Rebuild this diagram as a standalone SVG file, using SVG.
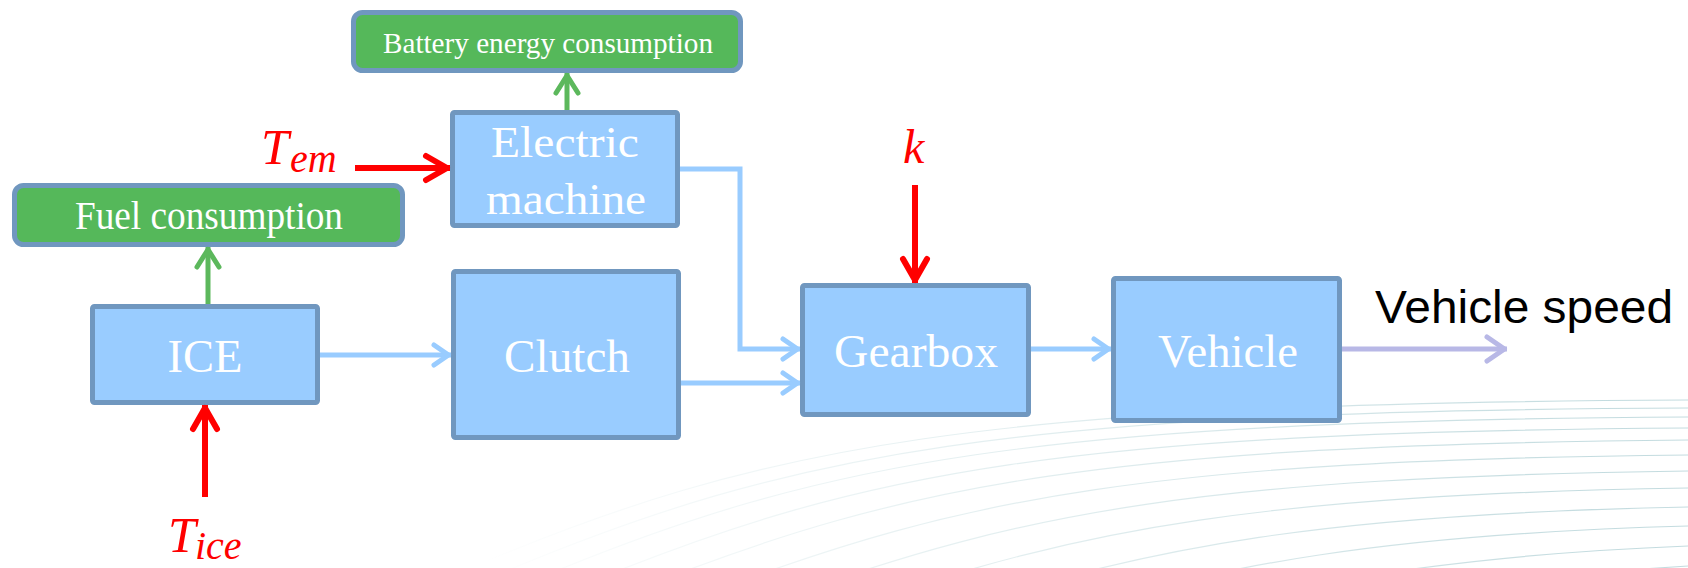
<svg xmlns="http://www.w3.org/2000/svg" width="1688" height="568" viewBox="0 0 1688 568">
  <style>
    .box { fill: #99ccff; stroke: #7097bf; stroke-width: 5; }
    .out { fill: #55b85a; stroke: #7097bf; stroke-width: 5; }
    .lbl { font-family: "Liberation Serif", "Times New Roman", serif; fill: #ffffff; text-anchor: middle; }
    .math { font-family: "Liberation Serif", "Times New Roman", serif; font-style: italic; fill: #ff0000; }
    .side { font-family: "Liberation Sans", Arial, sans-serif; fill: #000000; }
    .flow { fill: none; stroke: #99ccff; stroke-width: 5; marker-end: url(#head-blue); }
    .ctrl { fill: none; stroke: #ff0000; stroke-width: 6; marker-end: url(#head-red); }
    .meas { fill: none; stroke: #5cb85c; stroke-width: 5; marker-end: url(#head-green); }
    .speed { fill: none; stroke: #b8b8e6; stroke-width: 5; marker-end: url(#head-lav); }
    .swoosh path { fill: none; stroke: url(#swoosh-fade); stroke-width: 1.2; }
  </style>
  <defs>
    <linearGradient id="swoosh-fade" gradientUnits="userSpaceOnUse" x1="480" y1="0" x2="1600" y2="0">
      <stop offset="0" stop-color="#b2d2d6" stop-opacity="0"/>
      <stop offset="0.45" stop-color="#b2d2d6" stop-opacity="0.35"/>
      <stop offset="1" stop-color="#9cc4ca" stop-opacity="0.6"/>
    </linearGradient>
    <marker id="head-blue" viewBox="-24 -14 28 28" refX="0" refY="0" markerWidth="28" markerHeight="28" orient="auto" markerUnits="userSpaceOnUse">
      <path d="M-17,-10 L-2.5,0 L-17,10" fill="none" stroke="#99ccff" stroke-width="5" stroke-linecap="round" stroke-linejoin="round"/>
    </marker>
    <marker id="head-red" viewBox="-30 -16 34 32" refX="0" refY="0" markerWidth="34" markerHeight="32" orient="auto" markerUnits="userSpaceOnUse">
      <path d="M-24,-12 L-3,0 L-24,12" fill="none" stroke="#ff0000" stroke-width="6" stroke-linecap="round" stroke-linejoin="round"/>
    </marker>
    <marker id="head-green" viewBox="-26 -16 30 32" refX="0" refY="0" markerWidth="30" markerHeight="32" orient="auto" markerUnits="userSpaceOnUse">
      <path d="M-20,-11 L-2.5,0 L-20,11" fill="none" stroke="#5cb85c" stroke-width="5" stroke-linecap="round" stroke-linejoin="round"/>
    </marker>
    <marker id="head-lav" viewBox="-26 -16 30 32" refX="0" refY="0" markerWidth="30" markerHeight="32" orient="auto" markerUnits="userSpaceOnUse">
      <path d="M-20,-12 L-2.5,0 L-20,12" fill="none" stroke="#b8b8e6" stroke-width="5" stroke-linecap="round" stroke-linejoin="round"/>
    </marker>
  </defs>

  <rect x="0" y="0" width="1688" height="568" fill="#ffffff"/>

  <!-- decorative fan of thin curves in the lower right -->
  <g class="swoosh" id="backdrop">
    <path d="M470,568 C760,445 980,403 1688,400"/>
    <path d="M506,571 C789,453 1006,411 1688,408"/>
    <path d="M546,575 C822,461 1035,421 1688,417"/>
    <path d="M595,580 C862,471 1071,432 1688,428"/>
    <path d="M649,585 C907,483 1111,445 1688,440"/>
    <path d="M715,591 C961,497 1159,460 1688,455"/>
    <path d="M787,597 C1020,512 1211,477 1688,471"/>
    <path d="M862,604 C1082,528 1267,495 1688,488"/>
    <path d="M947,612 C1151,546 1328,514 1688,507"/>
    <path d="M1032,620 C1221,564 1390,534 1688,526"/>
    <path d="M1121,628 C1294,583 1455,555 1688,546"/>
    <path d="M1210,636 C1367,602 1521,576 1688,566"/>
  </g>

  <!-- output blocks -->
  <g id="battery">
    <rect class="out" x="353.5" y="12.5" width="387" height="58" rx="9"/>
    <text class="lbl" x="548" y="53" font-size="29" textLength="330" lengthAdjust="spacingAndGlyphs">Battery energy consumption</text>
  </g>
  <g id="fuel">
    <rect class="out" x="14.5" y="185.5" width="388" height="59" rx="9"/>
    <text class="lbl" x="209" y="229" font-size="39" textLength="268" lengthAdjust="spacingAndGlyphs">Fuel consumption</text>
  </g>

  <!-- powertrain blocks -->
  <g id="electric-machine">
    <rect class="box" x="452.5" y="112.5" width="225" height="113" rx="2"/>
    <text class="lbl" x="565" y="157" font-size="45" textLength="148" lengthAdjust="spacingAndGlyphs">Electric</text>
    <text class="lbl" x="566" y="214" font-size="45" textLength="160" lengthAdjust="spacingAndGlyphs">machine</text>
  </g>
  <g id="ice">
    <rect class="box" x="92.5" y="306.5" width="225" height="96" rx="2"/>
    <text class="lbl" x="205" y="372" font-size="47" textLength="75" lengthAdjust="spacingAndGlyphs">ICE</text>
  </g>
  <g id="clutch">
    <rect class="box" x="453.5" y="271.5" width="225" height="166" rx="2"/>
    <text class="lbl" x="567" y="372" font-size="47" textLength="126" lengthAdjust="spacingAndGlyphs">Clutch</text>
  </g>
  <g id="gearbox">
    <rect class="box" x="802.5" y="285.5" width="226" height="129" rx="2"/>
    <text class="lbl" x="916" y="367" font-size="47" textLength="164" lengthAdjust="spacingAndGlyphs">Gearbox</text>
  </g>
  <g id="vehicle">
    <rect class="box" x="1113.5" y="278.5" width="226" height="142" rx="2"/>
    <text class="lbl" x="1228" y="367" font-size="46" textLength="140" lengthAdjust="spacingAndGlyphs">Vehicle</text>
  </g>

  <!-- input and output labels -->
  <g id="label-tem">
    <text class="math" x="261" y="164" font-size="50">T<tspan x="290" dy="8" font-size="40">em</tspan></text>
  </g>
  <g id="label-tice">
    <text class="math" x="168" y="552" font-size="50">T<tspan x="195" dy="7" font-size="40">ice</tspan></text>
  </g>
  <g id="label-k">
    <text class="math" x="903" y="163" font-size="48">k</text>
  </g>
  <g id="label-speed">
    <text class="side" x="1375" y="323" font-size="46" textLength="298" lengthAdjust="spacingAndGlyphs">Vehicle speed</text>
  </g>

  <!-- connectors -->
  <g id="connectors">
    <path class="flow" d="M320,355 H451"/>
    <path class="flow" d="M681,383 H800"/>
    <path class="flow" d="M680,169 H740 V349 H800"/>
    <path class="flow" d="M1031,349 H1111"/>
    <path class="speed" d="M1342,349 H1507"/>
    <path class="ctrl" d="M355,168 H450"/>
    <path class="ctrl" d="M915,185 V283"/>
    <path class="ctrl" d="M205,497 V405"/>
    <path class="meas" d="M208,304 V247"/>
    <path class="meas" d="M567,110 V73"/>
  </g>
</svg>
